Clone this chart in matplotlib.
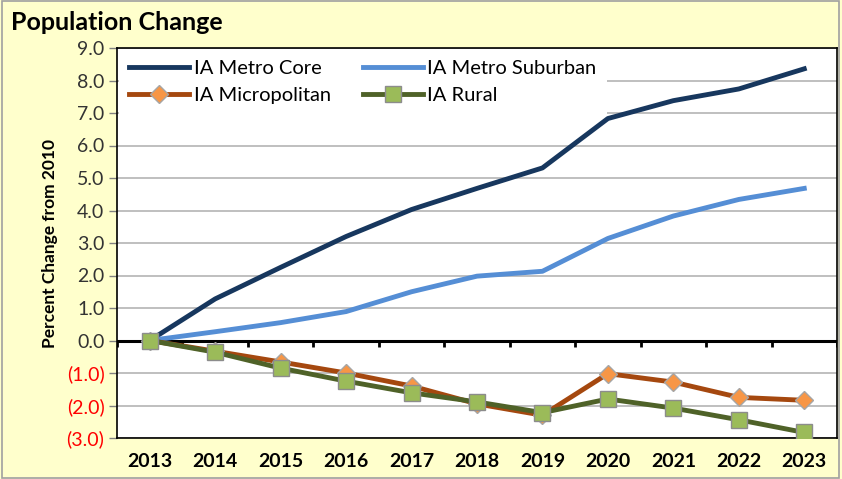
import numpy as np
import matplotlib
matplotlib.use('Agg')
import matplotlib.pyplot as plt
from matplotlib.ticker import FuncFormatter

plt.rcParams['font.family'] = ['Lato', 'DejaVu Sans']

years = ['2013', '2014', '2015', '2016', '2017', '2018', '2019', '2020', '2021', '2022', '2023']
metro_core = [0.0, 1.28, 2.25, 3.2, 4.03, 4.68, 5.31, 6.83, 7.38, 7.74, 8.36]
metro_suburban = [0.0, 0.27, 0.55, 0.89, 1.5, 1.98, 2.13, 3.14, 3.83, 4.34, 4.68]
micropolitan = [0.0, -0.33, -0.66, -1.0, -1.4, -1.95, -2.3, -1.02, -1.28, -1.75, -1.84]
rural = [0.0, -0.36, -0.85, -1.25, -1.61, -1.89, -2.22, -1.8, -2.08, -2.44, -2.83]

x = np.arange(len(years))

fig = plt.figure(figsize=(8.42, 4.79), dpi=100, facecolor='#FFFFCC')
ax = fig.add_axes([117/842, 1-438/479, 720/842, 390/479])
ax.set_facecolor('white')

# outer border of the chart
fig.patches.append(plt.Rectangle((0.002, 0.003), 0.995, 0.994, transform=fig.transFigure,
                                 fill=False, edgecolor='#A0A0A0', lw=1.2))

ax.set_ylim(-3, 9)
ax.set_xlim(-0.5, len(years) - 0.5)
ax.set_yticks(np.arange(-3, 10, 1))
ax.yaxis.grid(True, color='#B4B4B4', lw=1.2)
ax.set_axisbelow(True)

ax.axhline(0, color='black', lw=2.2, zorder=2)
ax.vlines(np.arange(len(years) + 1) - 0.5, -0.2, 0, color='black', lw=2, zorder=2)

l1, = ax.plot(x, metro_core, color='#17375E', lw=3.5, label='IA Metro Core', zorder=3)
l2, = ax.plot(x, metro_suburban, color='#558ED5', lw=3.5, label='IA Metro Suburban', zorder=3)
l3, = ax.plot(x, micropolitan, color='#A5480F', lw=3.5, marker='D', markersize=9,
              markerfacecolor='#F79646', markeredgecolor='#A6A6A6', markeredgewidth=1,
              label='IA Micropolitan', zorder=4)
l4, = ax.plot(x, rural, color='#4F6228', lw=3.5, marker='s', markersize=11,
              markerfacecolor='#9BBB59', markeredgecolor='#8C8C8C', markeredgewidth=1,
              label='IA Rural', zorder=5)

def fmt(v, pos):
    if v < 0:
        return '({:.1f})'.format(-v)
    return '{:.1f}'.format(v)

ax.yaxis.set_major_formatter(FuncFormatter(fmt))
ax.tick_params(axis='y', length=6, width=1, color='#808080', labelsize=14,
               labelcolor='#333333', pad=3)
for lbl, v in zip(ax.get_yticklabels(), ax.get_yticks()):
    if v < 0:
        lbl.set_color('#FF0000')

ax.set_xticks(x)
ax.set_xticklabels(years, fontweight='bold', fontsize=14)
ax.tick_params(axis='x', length=0, pad=11)

for s in ax.spines.values():
    s.set_color('black')
    s.set_linewidth(1.2)

ax.set_ylabel('Percent Change from 2010', fontweight='bold', fontsize=12.5, labelpad=6)

fig.text(11/842, 1-22/479, 'Population Change', fontweight='bold', fontsize=18,
         va='center', ha='left')

leg = ax.legend([l1, l3, l2, l4], [l1.get_label(), l3.get_label(), l2.get_label(), l4.get_label()],
                loc='upper left', ncol=2, frameon=True, fontsize=14.5, handlelength=3,
                columnspacing=1.6, borderaxespad=0.1, handletextpad=0.2,
                labelspacing=0.5, fancybox=False, borderpad=0.5)
leg.get_frame().set_edgecolor('none')
leg.get_frame().set_facecolor('white')
leg.get_frame().set_alpha(1)

fig.savefig('out.png', dpi=100, facecolor=fig.get_facecolor())
